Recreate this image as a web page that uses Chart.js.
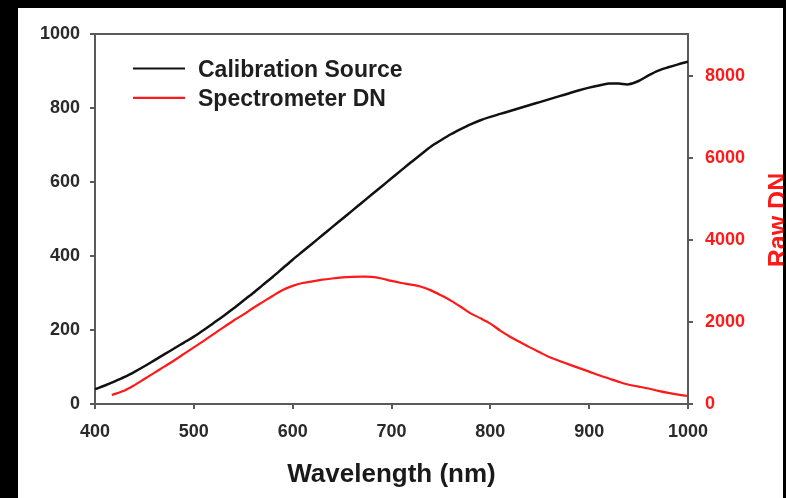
<!DOCTYPE html>
<html>
<head>
<meta charset="utf-8">
<script src="https://cdn.jsdelivr.net/npm/chart.js@4/dist/chart.umd.min.js"></script>
<style>
  html, body { margin: 0; padding: 0; background: #000; width: 786px; height: 498px; overflow: hidden; }
  #wrap { position: absolute; left: 18px; top: 8px; width: 765px; height: 490px; background: #fff; }
  canvas { display: block; }
</style>
</head>
<body>
<div id="wrap"><canvas id="c" width="765" height="490"></canvas></div>
<script>
// ---- data ----
const calibrationNm = [400,410,420,430,440,450,460,470,480,490,500,510,520,530,540,550,560,570,580,590,600,610,620,630,640,650,660,670,680,690,700,710,720,730,740,750,760,770,780,790,800,810,820,830,840,850,860,870,880,890,900,910,920,930,940,950,960,970,980,990,1000];
const calibrationValues = [40,50,61,73,87,102,118,134,150,166,182,200,219,238,258,279,300,322,344,367,390,412,434,456,478,500,522,544,566,588,610,632,654,675,696,713,729,743,756,767,776,784,792,800,808,816,824,832,840,848,855,861,866,866,864,873,888,901,910,918,925];
const spectrometerNm = [417,430,440,450,460,470,480,490,500,510,520,530,540,550,560,570,580,590,600,610,620,630,640,650,660,670,680,690,700,710,720,730,740,750,760,770,780,790,800,810,820,830,840,850,860,870,880,890,900,910,920,930,940,950,960,970,980,990,1000];
const spectrometerValues = [220,330,460,610,760,910,1060,1220,1380,1540,1705,1870,2030,2180,2340,2490,2640,2780,2880,2950,2990,3030,3060,3085,3100,3105,3100,3060,3000,2950,2910,2860,2770,2650,2520,2370,2210,2090,1960,1790,1640,1510,1380,1260,1140,1050,960,875,790,700,620,540,470,425,378,320,270,230,195];
const seriesLabels = ['Calibration Source', 'Spectrometer DN'];
const xTicks = [400,500,600,700,800,900,1000];
const leftTicks = [0,200,400,600,800,1000];
const rightTicks = [0,2000,4000,6000,8000];
const xTitle = 'Wavelength (nm)';
const rightTitle = 'Raw DN';

const FAMILY = 'Liberation Sans, Arial, sans-serif';
const tickFont = { family: FAMILY, size: 18, weight: 'bold' };
const axisColor = '#5a5a5a';

const framePlugin = {
  id: 'frame',
  afterDraw(chart) {
    const { ctx, chartArea: a } = chart;
    ctx.save();
    ctx.strokeStyle = axisColor;
    ctx.lineWidth = 2;
    ctx.beginPath();
    ctx.moveTo(a.left, a.top);
    ctx.lineTo(a.right, a.top);
    ctx.stroke();
    // legend inside the plot area
    ctx.font = 'bold 23px ' + FAMILY;
    ctx.textBaseline = 'middle';
    chart.data.datasets.forEach((ds, i) => {
      const y = a.top + 34.5 + i * 29.4;
      ctx.strokeStyle = ds.borderColor;
      ctx.lineWidth = 2.2;
      ctx.beginPath();
      ctx.moveTo(a.left + 38, y);
      ctx.lineTo(a.left + 90, y);
      ctx.stroke();
      ctx.fillStyle = '#1e1e1e';
      ctx.fillText(ds.label, a.left + 103, y + 2);
    });
    // right axis title, reading bottom to top
    ctx.fillStyle = '#ff1a1a';
    ctx.font = 'bold 25px ' + FAMILY;
    ctx.textAlign = 'center';
    ctx.textBaseline = 'alphabetic';
    ctx.translate(a.right + 98, (a.top + a.bottom) / 2 + 1);
    ctx.rotate(-Math.PI / 2);
    ctx.fillText(rightTitle, 0, 0);
    ctx.restore();
  }
};

const setTicks = (arr) => (s) => { s.ticks = arr.map(v => ({ value: v })); };
const plain = (v) => String(v);

new Chart(document.getElementById('c'), {
  type: 'line',
  data: {
    datasets: [
      {
        label: seriesLabels[0],
        data: calibrationNm.map((x, i) => ({ x, y: calibrationValues[i] })),
        borderColor: '#111111',
        borderWidth: 2.5,
        pointRadius: 0,
        tension: 0.3,
        yAxisID: 'y'
      },
      {
        label: seriesLabels[1],
        data: spectrometerNm.map((x, i) => ({ x, y: spectrometerValues[i] })),
        borderColor: '#ff1a1a',
        borderWidth: 2.2,
        pointRadius: 0,
        tension: 0.3,
        yAxisID: 'y1'
      }
    ]
  },
  options: {
    responsive: false,
    animation: false,
    devicePixelRatio: 1,
    layout: { padding: { top: 26, left: 0, right: 0, bottom: 0 } },
    plugins: { legend: { display: false }, tooltip: { enabled: false } },
    scales: {
      x: {
        type: 'linear',
        min: 400, max: 1000,
        afterBuildTicks: setTicks(xTicks),
        ticks: { color: '#2a2a2a', font: tickFont, padding: 12, maxRotation: 0, callback: plain },
        grid: { drawOnChartArea: false, drawTicks: true, tickLength: 5, color: axisColor, lineWidth: 2 },
        border: { display: true, color: axisColor, width: 2 },
        title: { display: true, text: xTitle, color: '#1a1a1a', font: { family: FAMILY, size: 26, weight: 'bold' }, padding: { top: 0, bottom: 8 } },
        afterFit(s) { s.height = 94; }
      },
      y: {
        position: 'left',
        min: 0, max: 1000,
        afterBuildTicks: setTicks(leftTicks),
        ticks: { color: '#2a2a2a', font: tickFont, padding: 10, callback: plain },
        grid: { drawOnChartArea: false, drawTicks: true, tickLength: 5, color: axisColor, lineWidth: 2 },
        border: { display: true, color: axisColor, width: 2 },
        afterFit(s) { s.width = 77; }
      },
      y1: {
        position: 'right',
        min: 0, max: 9020,
        afterBuildTicks: setTicks(rightTicks),
        ticks: { color: '#ff1a1a', font: tickFont, padding: 12, callback: plain },
        grid: { drawOnChartArea: false, drawTicks: true, tickLength: 5, color: axisColor, lineWidth: 2 },
        border: { display: true, color: axisColor, width: 2 },
        afterFit(s) { s.width = 95; }
      }
    }
  },
  plugins: [framePlugin]
});
</script>
</body>
</html>
